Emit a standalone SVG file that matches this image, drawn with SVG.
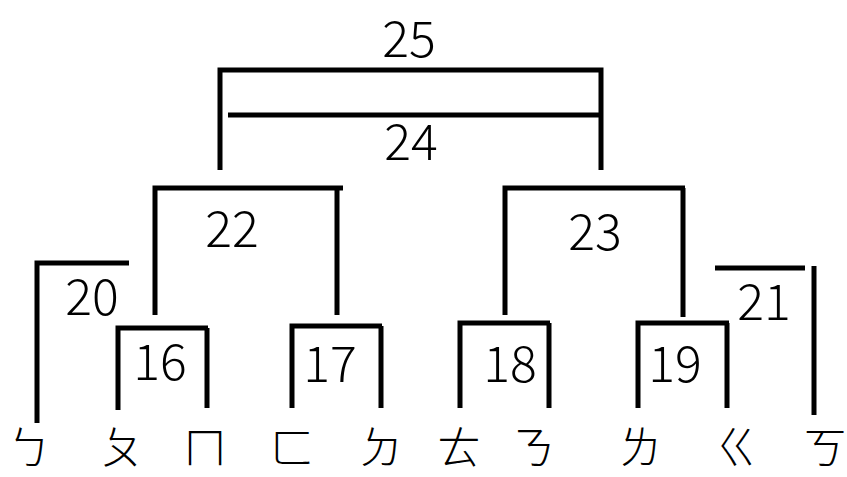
<svg xmlns="http://www.w3.org/2000/svg" width="847" height="477" viewBox="0 0 847 477">
<style>
.ln{stroke:#000;stroke-width:5;fill:none;stroke-linecap:butt}
.num{font-family:"Noto Sans CJK TC","Noto Sans",sans-serif;font-weight:300;font-size:50px;fill:#000;text-anchor:middle}
.leaf{font-family:"Noto Sans CJK TC",sans-serif;font-weight:300;font-size:44px;fill:#000;text-anchor:middle}
</style>
<rect width="847" height="477" fill="#fff"/>
<g id="connectors">
<path class="ln" d="M220,170 V70 H601 V170"/>
<path class="ln" d="M228,115 H601"/>
<path class="ln" d="M155,315 V188 H343 M337,188 V315"/>
<path class="ln" d="M505,315 V188 H685 M683,188 V317"/>
<path class="ln" d="M37,423 V263 H129"/>
<path class="ln" d="M118,410 V328 H208 M207,328 V408"/>
<path class="ln" d="M292,408 V326 H382 M381,326 V408"/>
<path class="ln" d="M460,408 V323 H550 M549,323 V408"/>
<path class="ln" d="M638,408 V323 H729 M727,323 V408"/>
<path class="ln" d="M715,268 H805 M814,266 V415"/>
</g>
<g id="n25"><text class="num" x="409" y="57">25</text></g>
<g id="n24"><text class="num" x="411" y="160">24</text></g>
<g id="n22"><text class="num" x="232" y="247">22</text></g>
<g id="n23"><text class="num" x="595" y="250">23</text></g>
<g id="n20"><text class="num" x="92" y="315">20</text></g>
<g id="n21"><text class="num" x="764" y="320">21</text></g>
<g id="n16"><text class="num" x="160" y="380">16</text></g>
<g id="n17"><text class="num" x="330" y="382">17</text></g>
<g id="n18"><text class="num" x="510" y="382">18</text></g>
<g id="n19"><text class="num" x="675" y="382">19</text></g>
<g id="leaf1"><text class="leaf" x="29" y="464">ㄅ</text></g>
<g id="leaf2"><text class="leaf" x="122" y="464">ㄆ</text></g>
<g id="leaf3"><text class="leaf" x="205" y="464">ㄇ</text></g>
<g id="leaf4"><text class="leaf" x="292" y="464">ㄈ</text></g>
<g id="leaf5"><text class="leaf" x="381" y="464">ㄉ</text></g>
<g id="leaf6"><text class="leaf" x="459" y="464">ㄊ</text></g>
<g id="leaf7"><text class="leaf" x="533" y="464">ㄋ</text></g>
<g id="leaf8"><text class="leaf" x="640" y="464">ㄌ</text></g>
<g id="leaf9"><text class="leaf" x="737" y="464">ㄍ</text></g>
<g id="leaf10"><text class="leaf" x="825" y="464">ㄎ</text></g>
</svg>
